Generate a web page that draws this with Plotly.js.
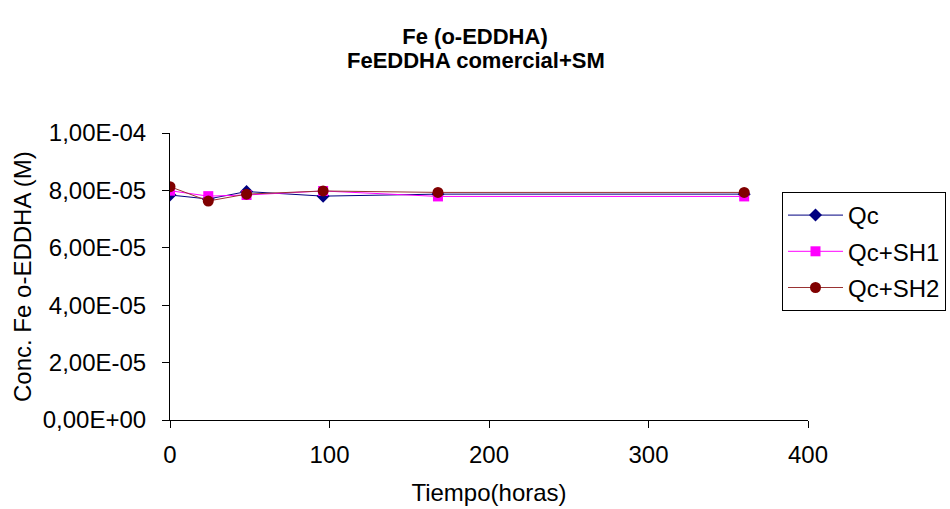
<!DOCTYPE html>
<html>
<head>
<meta charset="utf-8">
<script src="https://cdn.plot.ly/plotly-3.0.1.min.js"></script>
<style>html,body{margin:0;padding:0;background:#fff;}#chart{width:950px;height:509px;}</style>
</head>
<body>
<div id="chart"></div>
<script>
const hours = [0, 24, 48, 96, 168, 360];
const qc    = [7.84e-5, 7.70e-5, 7.96e-5, 7.80e-5, 7.87e-5, 7.87e-5];
const qcSH1 = [7.99e-5, 7.80e-5, 7.84e-5, 7.98e-5, 7.79e-5, 7.79e-5];
const qcSH2 = [8.13e-5, 7.63e-5, 7.87e-5, 7.98e-5, 7.93e-5, 7.93e-5];
const seriesNames = ['Qc', 'Qc+SH1', 'Qc+SH2'];
const yTickVals = [0, 2e-5, 4e-5, 6e-5, 8e-5, 1e-4];
const yTickText = ['0,00E+00', '2,00E-05', '4,00E-05', '6,00E-05', '8,00E-05', '1,00E-04'];
const xTickVals = [0, 100, 200, 300, 400];
const titleLine1 = 'Fe (o-EDDHA)';
const titleLine2 = 'FeEDDHA comercial+SM';
const yTitle = 'Conc. Fe o-EDDHA (M)';
const xTitle = 'Tiempo(horas)';

const FONT = 'Liberation Sans, Arial, sans-serif';

const traces = [
  {x: hours, y: qc, name: seriesNames[0], mode: 'lines+markers', legendgroup: 'a',
   line: {color: '#000080', width: 1}, marker: {symbol: 'diamond', size: 10, color: '#000080'}},
  {x: hours, y: qcSH1, name: seriesNames[1], mode: 'lines+markers', legendgroup: 'b',
   line: {color: '#FF00FF', width: 1}, marker: {symbol: 'square', size: 10, color: '#FF00FF'}},
  {x: hours, y: qcSH2, name: seriesNames[2], mode: 'lines+markers', legendgroup: 'c',
   line: {color: '#993333', width: 1}, marker: {symbol: 'circle', size: 11, color: '#800000'}}
];

const layout = {
  width: 950, height: 509,
  margin: {l: 170, r: 142, t: 133, b: 89, autoexpand: false},
  paper_bgcolor: '#ffffff', plot_bgcolor: '#ffffff',
  font: {family: FONT, size: 24, color: '#000'},
  title: {text: '<b>' + titleLine1 + '</b>',
          font: {family: FONT, size: 22, color: '#000'},
          x: 0.5, xref: 'container', xanchor: 'center',
          y: 1 - 36 / 509, yref: 'container', yanchor: 'middle'},
  annotations: [
    {text: '<b>' + titleLine2 + '</b>', showarrow: false,
     font: {family: FONT, size: 22, color: '#000'},
     xref: 'paper', yref: 'paper', x: (476 - 170) / 638, y: (420 - 60) / 287,
     xanchor: 'center', yanchor: 'middle'},
    {text: yTitle, showarrow: false, textangle: -90,
     font: {family: FONT, size: 24, color: '#000'},
     xref: 'paper', yref: 'paper', x: (22 - 170) / 638, y: (420 - 277) / 287,
     xanchor: 'center', yanchor: 'middle'}
  ],
  xaxis: {range: [0, 400], tickvals: xTickVals, ticks: 'outside', ticklen: 7, tickcolor: '#000',
          showline: true, linecolor: '#000', linewidth: 1, showgrid: false, zeroline: false,
          tickfont: {family: FONT, size: 24}, ticklabelstandoff: 6,
          title: {text: xTitle, font: {family: FONT, size: 24}, standoff: 17}},
  yaxis: {range: [0, 1e-4], tickvals: yTickVals, ticktext: yTickText, ticks: 'outside', ticklen: 7,
          tickcolor: '#000', showline: true, linecolor: '#000', linewidth: 1, showgrid: false,
          zeroline: false, tickfont: {family: FONT, size: 24}, ticklabelstandoff: 11},
  legend: {x: 782 / 950, y: 1 - 192 / 509, xref: 'container', yref: 'container',
           xanchor: 'left', yanchor: 'top',
           bordercolor: '#000', borderwidth: 1, bgcolor: '#fff', itemwidth: 55,
           font: {family: FONT, size: 24}, traceorder: 'grouped', tracegroupgap: 2},
  showlegend: true
};

Plotly.newPlot('chart', traces, layout, {displayModeBar: false, staticPlot: true});
</script>
</body>
</html>
